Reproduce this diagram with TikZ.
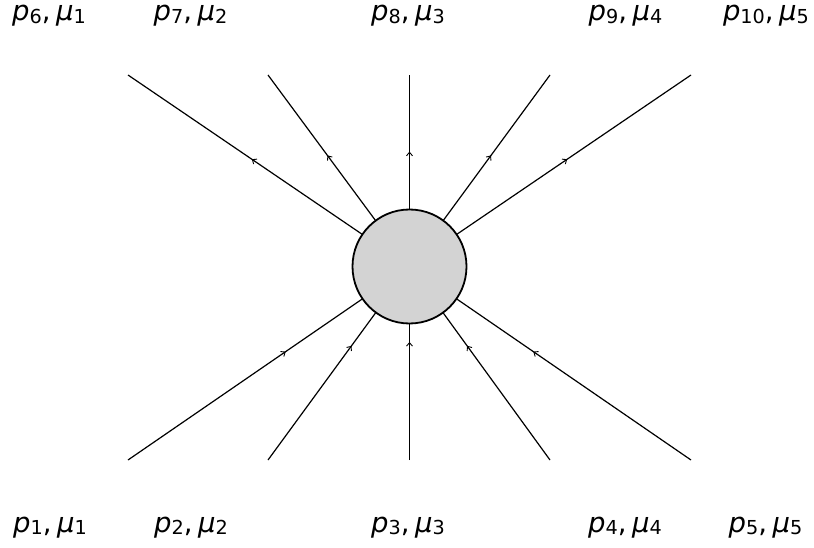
\documentclass[tikz,border=0pt]{standalone}
\usepackage{fontspec}
\setmainfont{DejaVu Sans}
\usetikzlibrary{arrows.meta,decorations.markings}
\newcommand\lsub[1]{\raisebox{-0.1em}{\scalebox{0.7}{#1}}}
\newcommand\plab[2]{\textit{p}\lsub{#1},\hspace{0.2em}\textit{μ}\lsub{#2}}
\tikzset{
  leg/.style={line width=1.2pt, postaction={decorate}, decoration={markings,
     mark=at position #1 with {\arrow{Straight Barb[length=3.5pt,width=6pt,line width=0.9pt]}}}},
  blob/.style={circle, draw, line width=1.8pt, fill={rgb,255:red,211;green,211;blue,211}, minimum size=114pt, inner sep=0pt},
  lab/.style={anchor=base, font=\fontsize{27.5}{32}\selectfont, inner sep=0pt}
}
\begin{document}
\begin{tikzpicture}[x=1pt,y=-1pt]
\useasboundingbox (0,0) rectangle (814,548);
\coordinate (c) at (409.5,266.5);
\coordinate (t1) at (128,75);
\coordinate (t2) at (268,75);
\coordinate (t3) at (409.5,75);
\coordinate (t4) at (550,75);
\coordinate (t5) at (691,75);
\coordinate (b1) at (128,460);
\coordinate (b2) at (268,460);
\coordinate (b3) at (409.5,460);
\coordinate (b4) at (550,460);
\coordinate (b5) at (691,460);
\draw[leg=0.56] (c) -- (t1);
\draw[leg=0.58] (c) -- (t2);
\draw[leg=0.6] (c) -- (t3);
\draw[leg=0.58] (c) -- (t4);
\draw[leg=0.56] (c) -- (t5);
\draw[leg=0.56] (b1) -- (c);
\draw[leg=0.59] (b2) -- (c);
\draw[leg=0.61] (b3) -- (c);
\draw[leg=0.59] (b4) -- (c);
\draw[leg=0.56] (b5) -- (c);
\node[blob] (v) at (c) {};
\node[lab] (l6) at (49,21) {\plab{6}{1}};
\node[lab] (l7) at (190.5,21) {\plab{7}{2}};
\node[lab] (l8) at (408,21) {\plab{8}{3}};
\node[lab] (l9) at (625.5,21) {\plab{9}{4}};
\node[lab] (l10) at (766,21) {\plab{10}{5}};
\node[lab] (l1) at (50,532) {\plab{1}{1}};
\node[lab] (l2) at (191,532) {\plab{2}{2}};
\node[lab] (l3) at (408,532) {\plab{3}{3}};
\node[lab] (l4) at (625,532) {\plab{4}{4}};
\node[lab] (l5) at (765.5,532) {\plab{5}{5}};
\end{tikzpicture}
\end{document}
